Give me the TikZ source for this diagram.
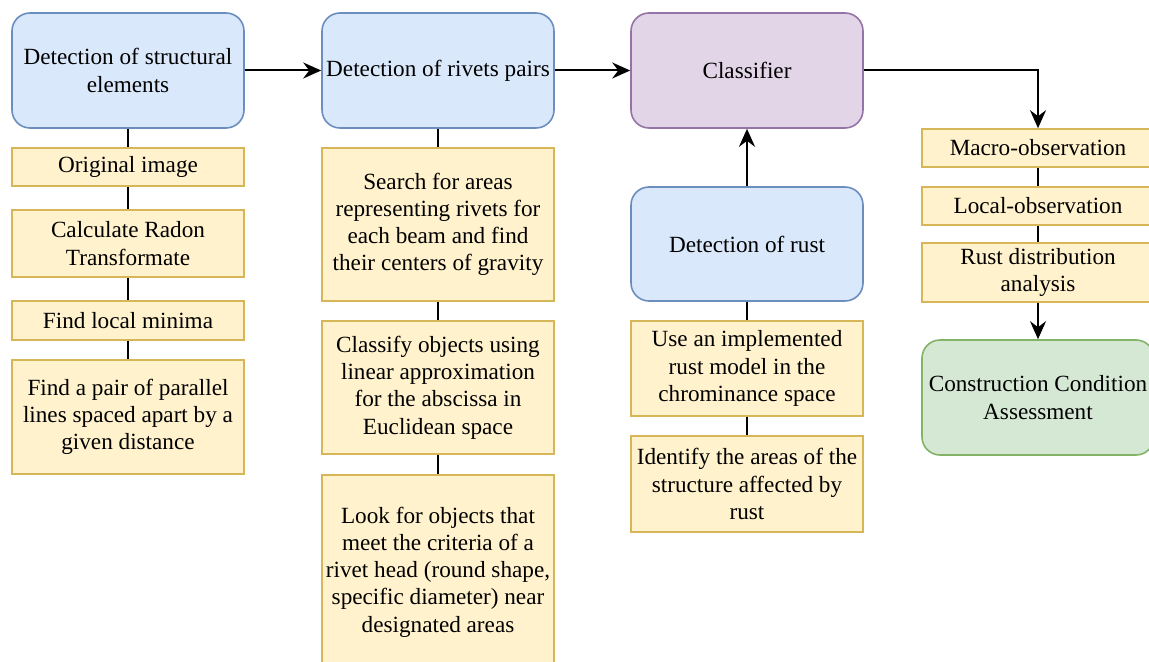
\documentclass[tikz,border=0pt]{standalone}
\usepackage{fontspec}
\setmainfont{Liberation Serif}
\usetikzlibrary{arrows.meta}
\definecolor{blueFill}{HTML}{DAE8FC}
\definecolor{blueLine}{HTML}{6C8EBF}
\definecolor{yellowFill}{HTML}{FFF2CC}
\definecolor{yellowLine}{HTML}{D6B656}
\definecolor{purpleFill}{HTML}{E1D5E7}
\definecolor{purpleLine}{HTML}{9673A6}
\definecolor{greenFill}{HTML}{D5E8D4}
\definecolor{greenLine}{HTML}{82B366}
\tikzset{
  box/.style={line width=0.8pt, minimum width=116pt, inner sep=0pt, align=center,
    font=\rmfamily\fontsize{11.6}{13.6}\selectfont},
  stage/.style={box, draw=blueLine, fill=blueFill, rounded corners=9pt},
  task/.style={box, draw=yellowLine, fill=yellowFill},
  flow/.style={-{Stealth[length=9pt,width=8pt,inset=3pt]}, line width=1pt},
  link/.style={line width=1pt}
}
\begin{document}
\begin{tikzpicture}[x=0.5pt,y=-0.5pt]
        \clip (0,0) rectangle (1149,662);
        % structural elements
        \node[stage, minimum height=57.5pt] (struct) at (128,70.5) {Detection of structural\\elements};
        \node[task, minimum height=19pt] (orig) at (128,167) {Original image};
        \node[task, minimum height=33.5pt] (radon) at (128,243.5) {Calculate Radon\\Transformate};
        \node[task, minimum height=19.5pt] (minima) at (128,320.5) {Find local minima};
        \node[task, minimum height=57pt] (pair) at (128,417) {Find a pair of parallel\\lines spaced apart by a\\given distance};
        % rivets pairs
        \node[stage, minimum height=57.5pt] (rivets) at (438,70.5) {Detection of rivets pairs};
        \node[task, minimum height=76.5pt] (search) at (438,224.5) {Search for areas\\representing rivets for\\each beam and find\\their centers of gravity};
        \node[task, minimum height=66.5pt] (classify) at (438,387.5) {Classify objects using\\linear approximation\\for the abscissa in\\Euclidean space};
        \node[task, minimum height=97pt] (look) at (438,572) {Look for objects that\\meet the criteria of a\\rivet head (round shape,\\specific diameter) near\\designated areas};
        % classifier and rust
        \node[box, draw=purpleLine, fill=purpleFill, rounded corners=9pt, minimum height=57.5pt] (classifier) at (747,70.5) {Classifier};
        \node[stage, minimum height=57pt] (rust) at (747,244) {Detection of rust};
        \node[task, minimum height=47.5pt] (model) at (747,368.5) {Use an implemented\\rust model in the\\chrominance space};
        \node[task, minimum height=48pt] (affected) at (747,484) {Identify the areas of the\\structure affected by\\rust};
        % assessment
        \node[task, minimum height=19pt] (macro) at (1038,148) {Macro-observation};
        \node[task, minimum height=19pt] (local) at (1038,206) {Local-observation};
        \node[task, minimum height=29.5pt] (distrib) at (1038,272.5) {Rust distribution\\analysis};
        \node[box, draw=greenLine, fill=greenFill, rounded corners=9pt, minimum height=57.5pt] (assess) at (1038,397.5) {Construction Condition\\Assessment};
        % connectors
        \draw[link] (struct) -- (orig);
        \draw[link] (orig) -- (radon);
        \draw[link] (radon) -- (minima);
        \draw[link] (minima) -- (pair);
        \draw[link] (rivets) -- (search);
        \draw[link] (search) -- (classify);
        \draw[link] (classify) -- (look);
        \draw[link] (rust) -- (model);
        \draw[link] (model) -- (affected);
        \draw[link] (macro) -- (local);
        \draw[link] (local) -- (distrib);
        \draw[flow] (struct) -- (rivets);
        \draw[flow] (rivets) -- (classifier);
        \draw[flow] (rust) -- (classifier);
        \draw[flow] (classifier.east) -| (macro.north);
        \draw[flow] (distrib) -- (assess);
\end{tikzpicture}
\end{document}
